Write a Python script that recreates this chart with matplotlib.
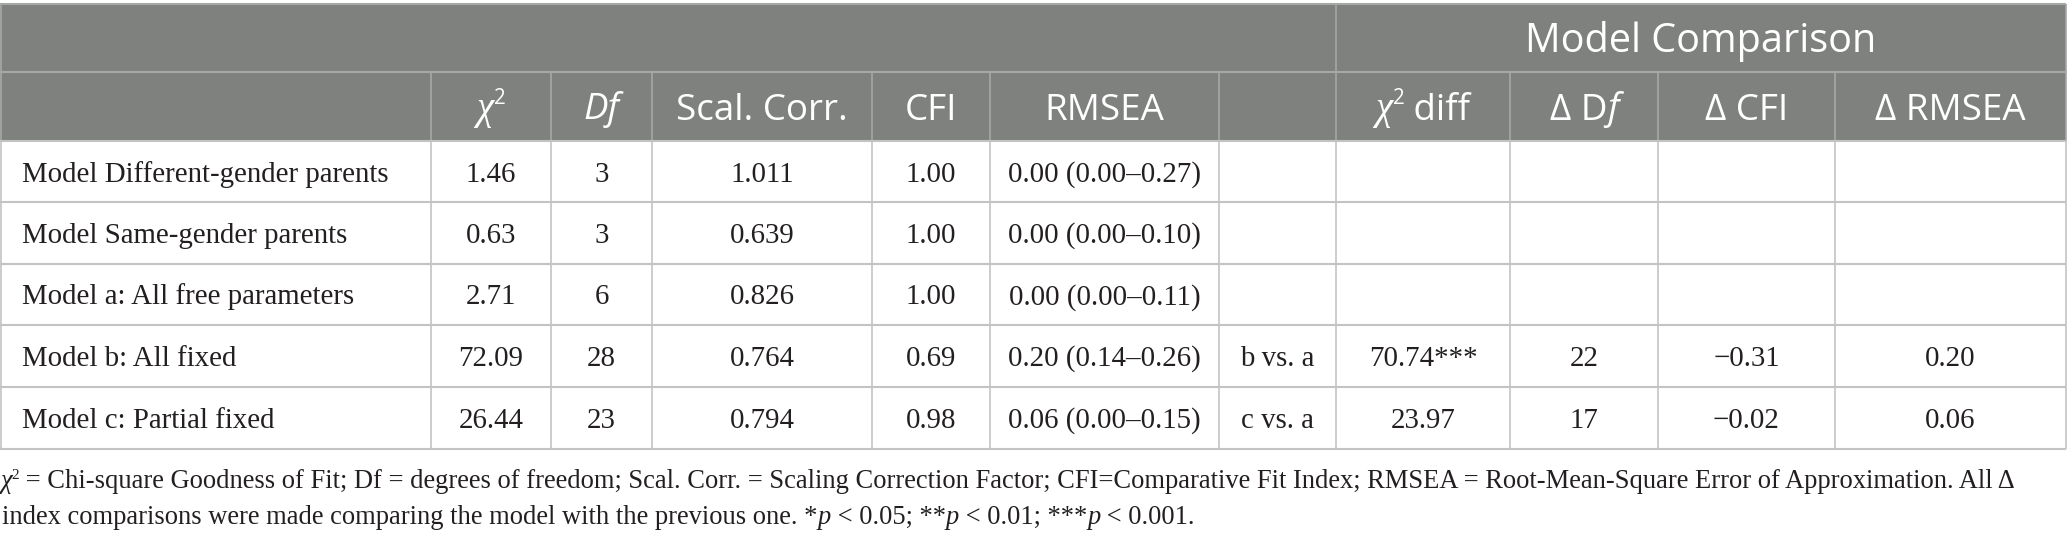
import matplotlib
matplotlib.use("Agg")
import matplotlib.pyplot as plt

# ---------------- data ----------------
models = ["Model Different-gender parents", "Model Same-gender parents",
          "Model a: All free parameters", "Model b: All fixed", "Model c: Partial fixed"]
chi2 = ["1.46", "0.63", "2.71", "72.09", "26.44"]
df = ["3", "3", "6", "28", "23"]
scal_corr = ["1.011", "0.639", "0.826", "0.764", "0.794"]
cfi = ["1.00", "1.00", "1.00", "0.69", "0.98"]
rmsea = ["0.00 (0.00\u20130.27)", "0.00 (0.00\u20130.10)", "0.00 (0.00\u20130.11)",
         "0.20 (0.14\u20130.26)", "0.06 (0.00\u20130.15)"]
comparison = ["", "", "", "b vs. a", "c vs. a"]
chi2_diff = ["", "", "", "70.74***", "23.97"]
delta_df = ["", "", "", "22", "17"]
delta_cfi = ["", "", "", "\u22120.31", "\u22120.02"]
delta_rmsea = ["", "", "", "0.20", "0.06"]
group_title = "Model Comparison"
footnote1 = ("= Chi-square Goodness of Fit; Df = degrees of freedom; Scal. Corr. = Scaling Correction Factor; "
             "CFI=Comparative Fit Index; RMSEA = Root-Mean-Square Error of Approximation. All \u0394")
footnote2_parts = ["index comparisons were made comparing the model with the previous one. *", "p",
                   " < 0.05; **", "p", " < 0.01; ***", "p", " < 0.001."]

columns = [models, chi2, df, scal_corr, cfi, rmsea, comparison, chi2_diff, delta_df, delta_cfi, delta_rmsea]

# ---------------- layout ----------------
W, H = 2068, 541
col_edges = [0, 431, 551, 652, 872, 990, 1219, 1336, 1510, 1658, 1835, 2066]
row_edges = [4, 72, 141, 202, 264, 325, 387, 449]
HEAD_BG = "#7f817f"
HEAD_LINE = "#a6a8a6"
GRID = "#c3c3c3"
SERIF = "Liberation Serif"
SANS = "Open Sans"
BODY_SIZE = 20.8
HEAD1_SIZE = 28.5
HEAD_SIZE = 26.5

fig = plt.figure(figsize=(W / 100, H / 100), dpi=100)
ax = fig.add_axes([0, 0, 1, 1])
ax.set_xlim(0, W)
ax.set_ylim(H, 0)
ax.axis("off")
fig.canvas.draw()
renderer = fig.canvas.get_renderer()

# header background
ax.fill_between([col_edges[0], col_edges[-1]], row_edges[0], row_edges[2], color=HEAD_BG, lw=0)
# header lines
ax.hlines([row_edges[0]], col_edges[0], col_edges[-1], color=HEAD_LINE, lw=1.5)
ax.hlines([row_edges[1]], col_edges[0], col_edges[-1], color=HEAD_LINE, lw=1.5)
ax.vlines([col_edges[7]], row_edges[0], row_edges[1], color=HEAD_LINE, lw=1.2)
ax.vlines(col_edges[1:-1], row_edges[1], row_edges[2], color=HEAD_LINE, lw=1.2)
ax.vlines([col_edges[0] + 0.5, col_edges[-1]], row_edges[0], row_edges[2], color=HEAD_LINE, lw=1.2)
# body grid
ax.hlines(row_edges[2:], col_edges[0], col_edges[-1], color=GRID, lw=1.5)
ax.vlines(col_edges[1:-1], row_edges[2], row_edges[-1], color=GRID, lw=1.2)
ax.vlines([col_edges[0] + 0.5, col_edges[-1]], row_edges[2], row_edges[-1], color=GRID, lw=1.2)


def rich(x, y, pieces, ha="center"):
    """pieces: list of (text, props dict, dy)"""
    texts = []
    widths = []
    for s, props, dy in pieces:
        t = ax.text(0, y + dy, s, ha="left", va="baseline", **props)
        widths.append(t.get_window_extent(renderer).width)
        texts.append(t)
    total = sum(widths)
    x0 = x - total / 2 if ha == "center" else x
    for t, w in zip(texts, widths):
        t.set_x(x0)
        x0 += w
    return total


hs1 = dict(family=SANS, size=HEAD1_SIZE, color="white")
hs = dict(family=SANS, size=HEAD_SIZE, color="white")
hsi = dict(family=SANS, size=HEAD_SIZE, color="white", style="italic")
chi_h = dict(family=SERIF, size=HEAD_SIZE + 1.5, color="white", style="italic")
sup_h = dict(family=SANS, size=HEAD_SIZE * 0.56, color="white")

# header row 1
c1 = (row_edges[0] + row_edges[1]) / 2
rich((col_edges[7] + col_edges[-1]) / 2, c1 + 14, [(group_title, hs1, 0)])

# header row 2
c2 = (row_edges[1] + row_edges[2]) / 2
base2 = c2 + 13
centers = [(col_edges[i] + col_edges[i + 1]) / 2 for i in range(len(col_edges) - 1)]
rich(centers[1], base2, [("\u03c7", chi_h, 0), ("2", sup_h, -16)])
rich(centers[2], base2, [("Df", hsi, 0)])
rich(centers[3], base2, [("Scal. Corr.", hs, 0)])
rich(centers[4], base2, [("CFI", hs, 0)])
rich(centers[5], base2, [("RMSEA", hs, 0)])
rich(centers[7], base2, [("\u03c7", chi_h, 0), ("2", sup_h, -16), (" diff", hs, 0)])
rich(centers[8], base2, [("\u0394 D", hs, 0), ("f", hsi, 0)])
rich(centers[9], base2, [("\u0394 CFI", hs, 0)])
rich(centers[10], base2, [("\u0394 RMSEA", hs, 0)])

# body
bs = dict(family=SERIF, size=BODY_SIZE, color="#231f20")
for r in range(len(models)):
    yc = (row_edges[r + 2] + row_edges[r + 3]) / 2
    base = yc + 10
    for ci, col in enumerate(columns):
        s = col[r]
        if not s:
            continue
        if ci == 0:
            ax.text(col_edges[0] + 22, base, s, ha="left", va="baseline", **bs)
        else:
            ax.text(centers[ci], base, s, ha="center", va="baseline", **bs)

# footnote
FN = 19.1
fs = dict(family=SERIF, size=FN, color="#231f20")
fsi = dict(family=SERIF, size=FN, color="#231f20", style="italic")
fsup = dict(family=SERIF, size=11, color="#231f20")
rich(0, 488, [("\u03c7", fsi, 0), ("2", fsup, -9), (" " + footnote1, fs, 0)], ha="left")
pieces2 = [(p, fsi if p == "p" else fs, 0) for p in footnote2_parts]
rich(2, 524, pieces2, ha="left")

fig.savefig("out.png", dpi=100)
